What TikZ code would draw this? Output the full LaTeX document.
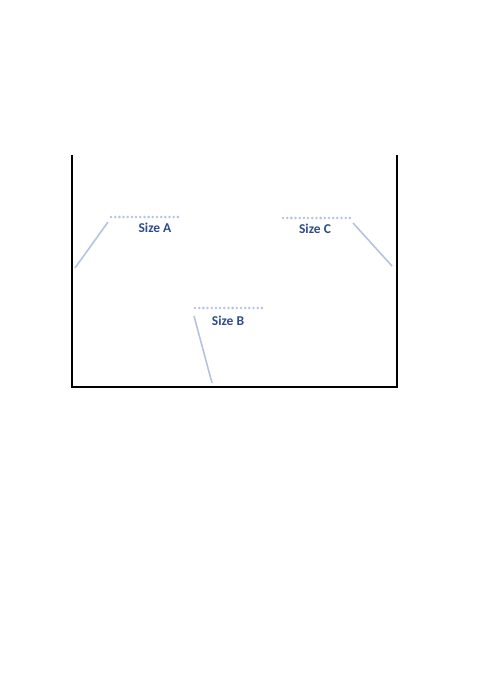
\documentclass[tikz,border=0pt]{standalone}
\usepackage{fontspec}
\setmainfont{Carlito}
\definecolor{leadblue}{HTML}{B4C3E0}
\definecolor{textblue}{HTML}{2F4B8C}
\begin{document}
\begin{tikzpicture}[x=1pt,y=-1pt,every node/.style={font=\fontsize{13.5}{15}\selectfont\bfseries,text=textblue}]
\useasboundingbox (0,0) rectangle (480,700);
\tikzset{wall/.style={line width=1.6pt,black},
  lead/.style={line width=1.6pt,leadblue},
  sizeline/.style={line width=2.8pt,leadblue,line cap=round,dash pattern=on 0pt off 4.18pt}}
% container
\coordinate (tl) at (72,155);
\coordinate (bl) at (72,387);
\coordinate (br) at (397,387);
\coordinate (tr) at (397,155);
\draw[wall] (tl) -- (bl) -- (br) -- (tr);
% size A
\node (sa) at (155,228) {Size A};
\coordinate (sa1) at (111,217);
\coordinate (sa2) at (178,217);
\coordinate (la1) at (108,222);
\coordinate (la2) at (75,268);
\draw[sizeline] (sa1) -- (sa2);
\draw[lead] (la1) -- (la2);
% size B
\node (sb) at (228,321) {Size B};
\coordinate (sb1) at (195,308);
\coordinate (sb2) at (262,308);
\coordinate (lb1) at (194,316);
\coordinate (lb2) at (212,383);
\draw[sizeline] (sb1) -- (sb2);
\draw[lead] (lb1) -- (lb2);
% size C
\node (sc) at (315,229) {Size C};
\coordinate (sc1) at (283,218);
\coordinate (sc2) at (350,218);
\coordinate (lc1) at (353,223);
\coordinate (lc2) at (392,266);
\draw[sizeline] (sc1) -- (sc2);
\draw[lead] (lc1) -- (lc2);
\end{tikzpicture}
\end{document}
